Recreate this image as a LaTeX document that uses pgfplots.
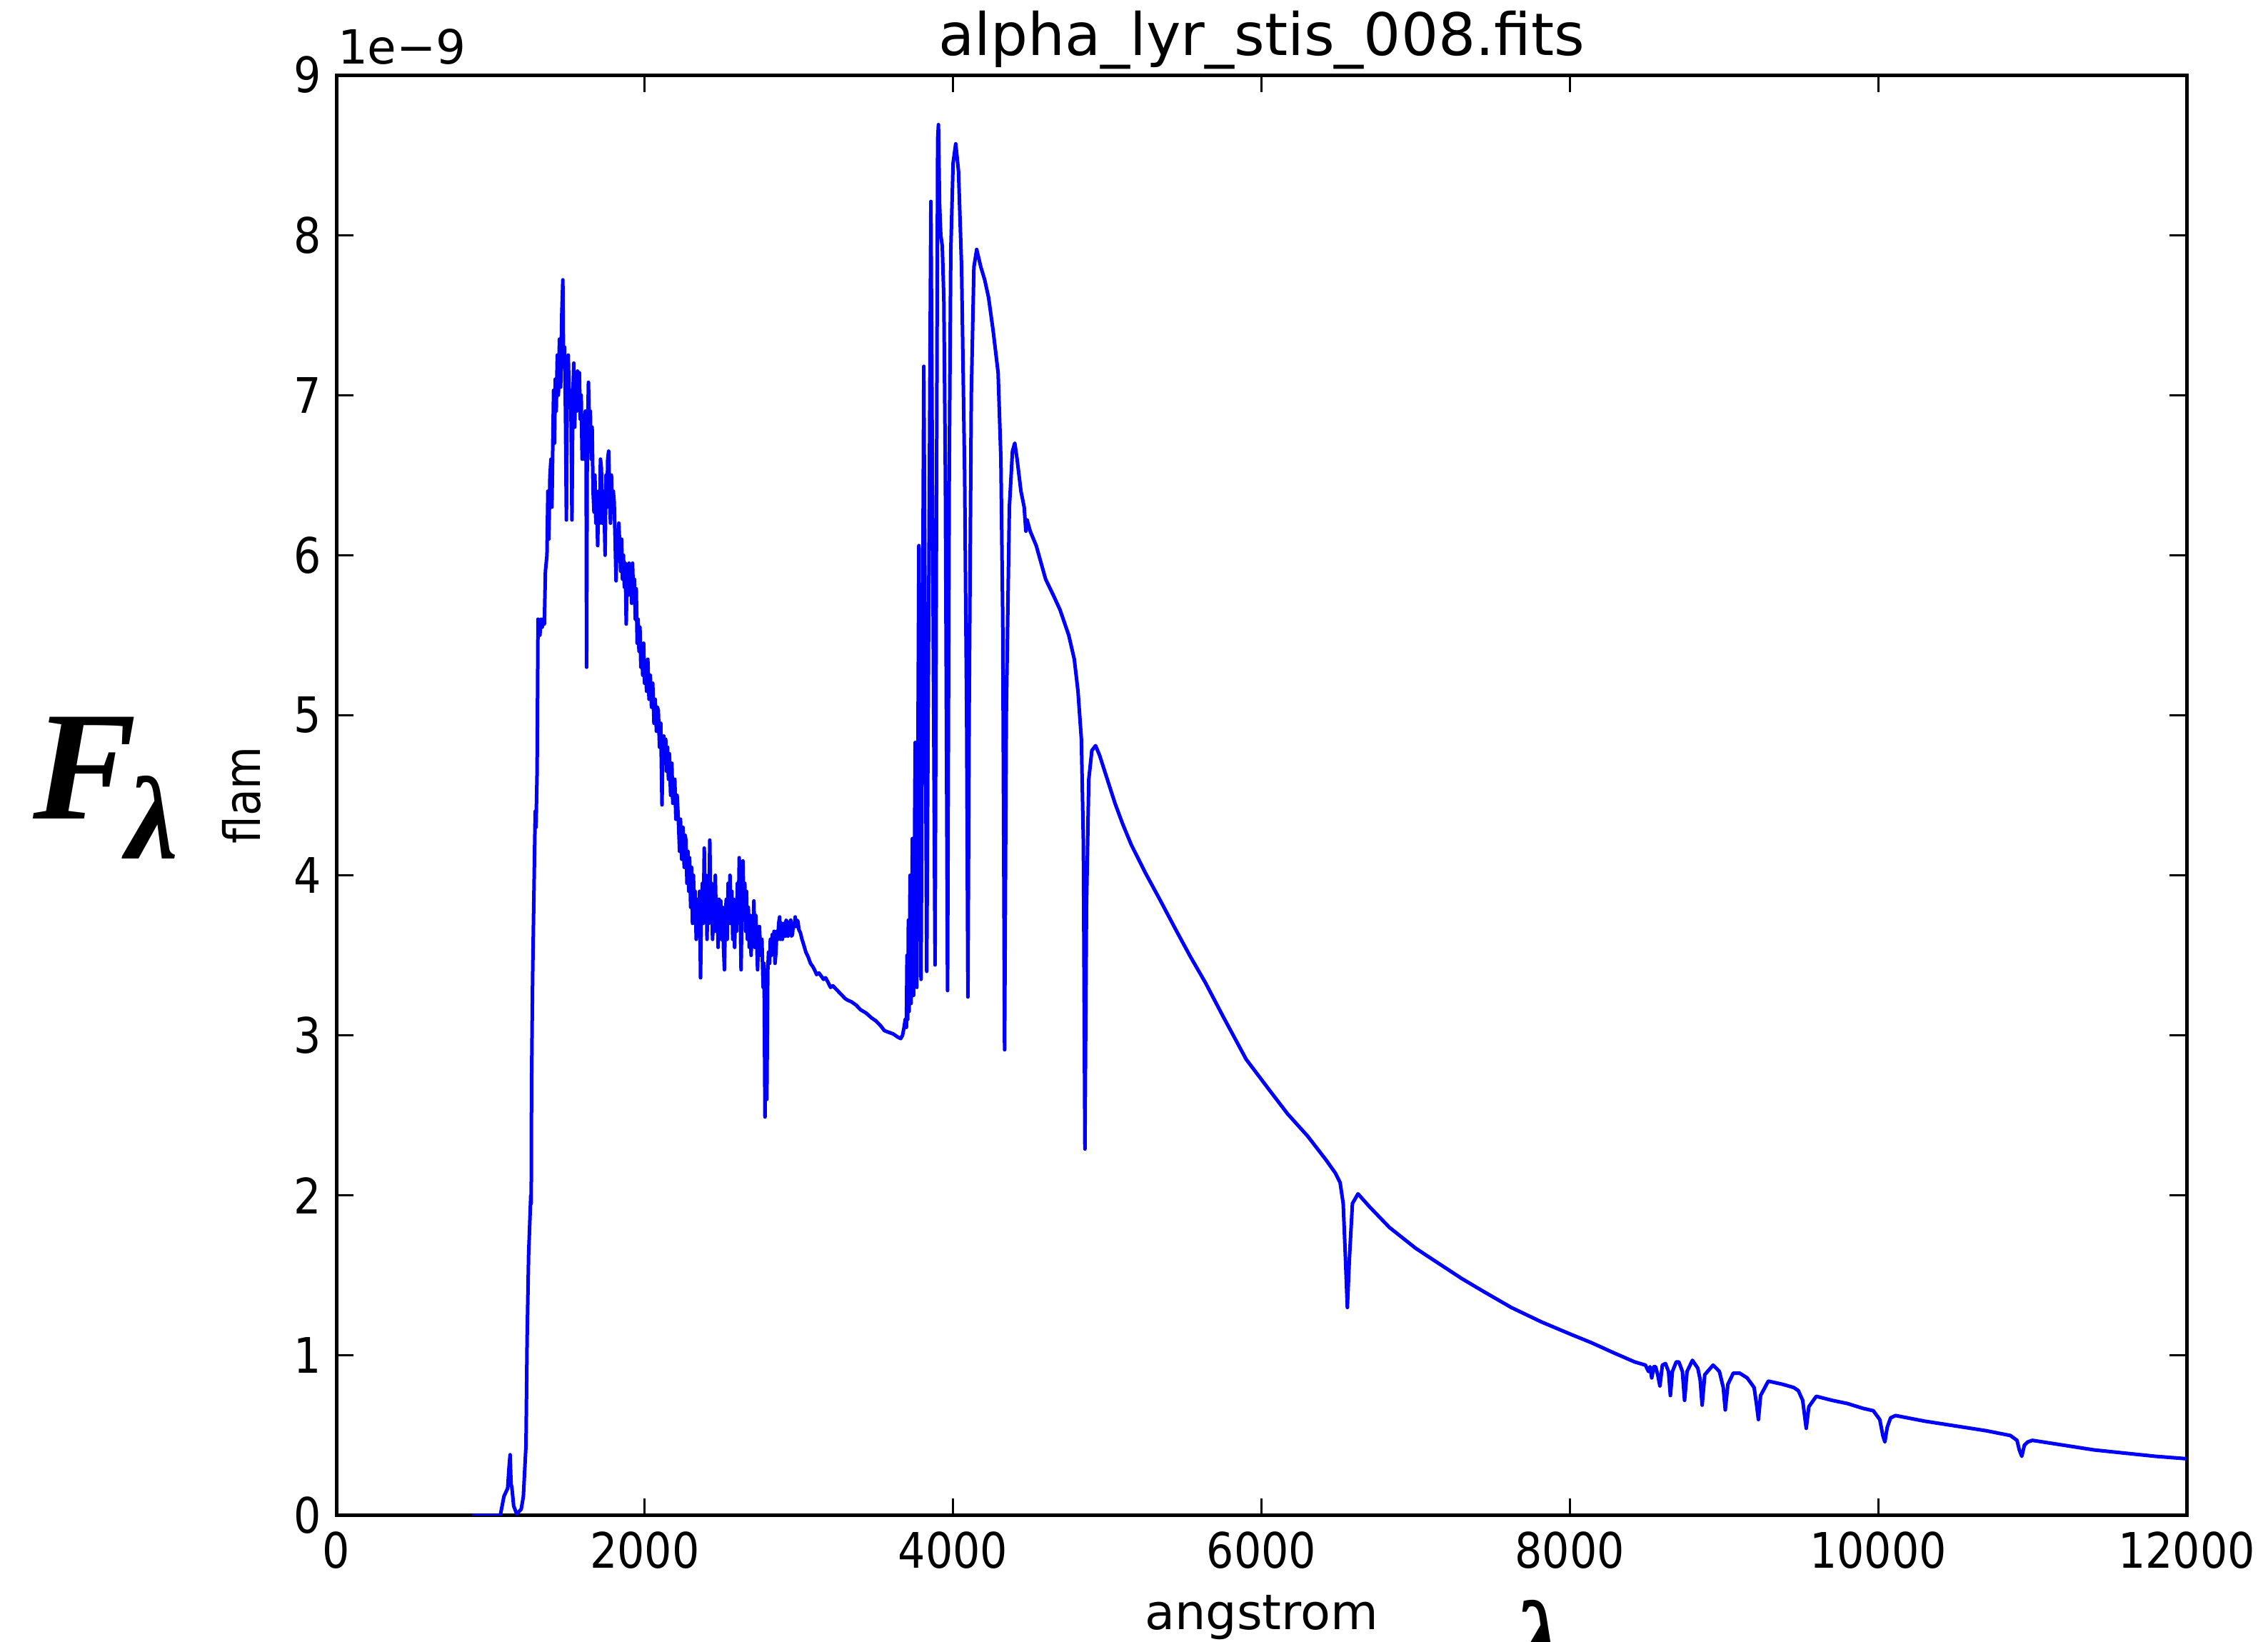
\documentclass[border=0pt]{standalone}
\usepackage{fontspec}
\setmainfont{DejaVu Sans}[FakeStretch=0.88]
\newfontfamily\djv{DejaVu Sans}
\newfontfamily\tnr{Liberation Serif}
\usepackage{pgfplots}
\pgfplotsset{compat=1.18}
\begin{document}
\begin{tikzpicture}
\useasboundingbox (0,0) rectangle (635.2pt,459.8pt);
\begin{axis}[
  at={(94.2pt,35.4pt)}, anchor=south west, scale only axis,
  width=518.2pt, height=403.4pt,
  xmin=0, xmax=12000, ymin=0, ymax=9,
  xtick={0,2000,...,12000}, ytick={0,1,...,9},
  scaled ticks=false,
  /pgf/number format/1000 sep={},
  /pgf/number format/assume math mode=true,
  tick label style={font=\fontsize{13.7}{16}\selectfont},
  xticklabel style={anchor=base, yshift=-14.8pt, inner sep=0pt},
  yticklabel style={anchor=east, xshift=-4pt, inner sep=0pt},
  major tick length=4.8pt,
  tick style={black, line width=0.6pt},
  axis line style={black, line width=1pt},
]
\addplot[color={rgb,1:red,0;green,0;blue,1}, line width=1pt, line join=round] coordinates {
(880,0) (1063,0) (1087,0.12) (1111,0.17) (1120,0.3) (1127,0.38) (1133,0.2) (1139,0.17) (1150,0.06) (1170,0.01) (1199,0.04) (1213,0.12) (1230,0.44) (1237,1.09) (1247,1.63)
(1261,2.0) (1264,1.95) (1266,2.7) (1273,3.36) (1285,4.11) (1290,4.4) (1295,4.3) (1302,4.65) (1308,5.6) (1313,5.57) (1320,5.5) (1328,5.6) (1335,5.55) (1342,5.6) (1349,5.57) (1356,5.9) (1366,6.0) (1372,6.4) (1378,6.1) (1385,6.49) (1392,6.6) (1398,6.3) (1409,7.03) (1415,6.7) (1420,7.1) (1426,6.9) (1433,7.25) (1440,7.0) (1447,7.35) (1455,7.05) (1462,7.5) (1469,7.72) (1473,7.2) (1480,7.3) (1486,6.9) (1492,6.22) (1498,7.1) (1504,7.25) (1510,7.0) (1516,7.03) (1522,6.9) (1528,6.22) (1534,7.0) (1540,7.2) (1546,6.8) (1552,7.1) (1558,6.9) (1564,7.15) (1570,6.95) (1576,7.14) (1582,6.85) (1588,7.0) (1594,6.6) (1600,6.76) (1608,6.6) (1615,6.9) (1620,6.7) (1623,5.3) (1627,6.6) (1635,7.08) (1641,6.8) (1647,6.9) (1653,6.6) (1659,6.8) (1665,6.4) (1671,6.27) (1677,6.5) (1683,6.2) (1689,6.3) (1695,6.06) (1701,6.4) (1707,6.2) (1713,6.6) (1719,6.54) (1725,6.2) (1731,6.4) (1737,6.3) (1743,6.0) (1749,6.5) (1755,6.3) (1760,6.6) (1766,6.65) (1772,6.4) (1778,6.2) (1784,6.5) (1790,6.3) (1796,6.4) (1802,6.33) (1808,6.1) (1814,5.84) (1820,6.1) (1826,6.0) (1832,6.2) (1838,6.06) (1844,5.9) (1850,6.1) (1856,5.85) (1862,6.0) (1868,5.8) (1874,5.95) (1880,5.57) (1886,5.9) (1892,5.75) (1898,5.95) (1904,5.8) (1910,5.9) (1915,5.7) (1921,5.95) (1927,5.75) (1933,5.85) (1939,5.6) (1945,5.79) (1951,5.45) (1957,5.6) (1963,5.4) (1969,5.55) (1975,5.3) (1981,5.41) (1987,5.25) (1993,5.45) (1999,5.2) (2005,5.3) (2012,5.15) (2020,5.35) (2028,5.1) (2036,5.25) (2044,5.05) (2052,5.2) (2060,4.95) (2068,5.1) (2076,4.9) (2082,5.05) (2088,5.03) (2096,4.8) (2104,4.95) (2112,4.44) (2118,4.8) (2124,4.87) (2130,4.7) (2136,4.85) (2142,4.65) (2148,4.8) (2154,4.6) (2160,4.76) (2168,4.5) (2176,4.7) (2182,4.45) (2188,4.6) (2195,4.6) (2202,4.35) (2210,4.5) (2219,4.33) (2226,4.15) (2232,4.35) (2240,4.1) (2248,4.3) (2256,4.05) (2262,4.25) (2267,4.22) (2274,3.95) (2280,4.15) (2286,3.9) (2291,4.11) (2298,3.8) (2304,4.05) (2310,3.7) (2316,4.0) (2322,3.75) (2327,3.9) (2334,3.6) (2340,3.85) (2345,3.74) (2350,3.65) (2356,3.9) (2362,3.36) (2368,3.8) (2374,3.95) (2380,3.7) (2386,4.17) (2392,3.8) (2398,4.0) (2404,3.6) (2410,3.95) (2416,3.7) (2422,4.22) (2428,3.8) (2434,3.95) (2440,3.6) (2446,3.79) (2452,3.65) (2458,4.0) (2464,3.7) (2470,3.85) (2476,3.55) (2482,3.85) (2487,3.7) (2493,3.84) (2499,3.6) (2505,3.8) (2511,3.55) (2517,3.41) (2523,3.75) (2529,3.85) (2535,3.6) (2541,3.95) (2547,3.7) (2553,4.0) (2559,3.7) (2565,3.9) (2571,3.6) (2577,3.85) (2583,3.55) (2589,3.8) (2595,3.65) (2601,3.95) (2607,3.7) (2613,4.11) (2619,3.8) (2625,3.41) (2631,3.85) (2637,4.09) (2643,3.75) (2649,3.95) (2655,3.65) (2660,3.9) (2666,3.6) (2672,3.8) (2678,3.55) (2684,3.75) (2690,3.5) (2696,3.7) (2702,3.6) (2708,3.84) (2714,3.55) (2720,3.75) (2726,3.6) (2732,3.41) (2738,3.6) (2744,3.68) (2752,3.5) (2760,3.6) (2768,3.3) (2774,3.45) (2780,2.49) (2786,3.3) (2792,2.6) (2798,3.4) (2803,3.52) (2810,3.45) (2815,3.6) (2821,3.5) (2827,3.63) (2833,3.55) (2839,3.65) (2845,3.45) (2851,3.52) (2857,3.65) (2863,3.6) (2869,3.7) (2875,3.74) (2881,3.6) (2887,3.7) (2893,3.6) (2899,3.65) (2905,3.7) (2911,3.62) (2917,3.72) (2923,3.71) (2929,3.62) (2935,3.7) (2941,3.65) (2947,3.72) (2952,3.62) (2958,3.63) (2964,3.7) (2970,3.68) (2976,3.74) (2982,3.68) (2988,3.72) (2994,3.71) (3000,3.66) (3010,3.64) (3020,3.6) (3030,3.57) (3045,3.52) (3060,3.49) (3075,3.45) (3090,3.43) (3101,3.41) (3115,3.38) (3130,3.39) (3145,3.37) (3160,3.35) (3173,3.36) (3190,3.33) (3205,3.3) (3220,3.31) (3240,3.29) (3260,3.27) (3280,3.25) (3300,3.23) (3316,3.22) (3340,3.21) (3370,3.19) (3400,3.16) (3435,3.14) (3470,3.11) (3500,3.09) (3530,3.06) (3554,3.03) (3580,3.02) (3610,3.01) (3640,2.99) (3660,2.98) (3672,3.0) (3682,3.05) (3690,3.1)
(3697,3.05) (3701,3.5) (3706,3.1) (3710,3.72) (3715,3.15) (3721,4.0) (3728,3.2) (3736,4.23) (3744,3.25) (3754,4.83) (3765,3.3) (3778,6.06) (3792,3.35) (3810,7.18) (3829,3.4) (3856,8.21) (3883,3.44) (3900,8.6) (3905,8.69) (3912,8.2) (3920,8.0) (3930,7.93) (3940,7.6) (3950,6.5) (3964,3.28) (3975,6.5) (3985,7.9) (4000,8.45) (4017,8.57) (4035,8.4) (4055,7.8) (4075,6.5) (4088,5.0) (4096,3.24) (4104,5.0) (4118,7.0) (4135,7.8) (4153,7.91) (4180,7.8) (4205,7.72) (4230,7.61) (4260,7.4) (4292,7.14) (4310,6.6) (4322,5.6) (4334,2.91) (4345,5.0) (4365,6.3) (4385,6.65) (4400,6.70) (4415,6.6) (4440,6.4) (4461,6.3) (4472,6.15) (4480,6.22) (4500,6.15) (4539,6.06) (4600,5.85) (4650,5.75) (4693,5.66) (4750,5.5) (4786,5.35) (4810,5.15) (4832,4.85) (4845,4.2) (4855,2.29) (4865,3.8) (4880,4.6) (4900,4.78) (4924,4.81) (4950,4.75) (5000,4.6) (5050,4.45) (5100,4.32) (5156,4.19) (5250,4.01) (5340,3.85) (5450,3.65) (5540,3.49) (5636,3.33) (5750,3.12) (5901,2.85) (6050,2.66) (6169,2.51) (6300,2.37) (6420,2.22) (6479,2.14) (6510,2.08) (6530,1.95) (6545,1.6) (6557,1.3) (6570,1.6) (6590,1.95) (6626,2.01) (6700,1.93) (6830,1.8) (7000,1.67) (7110,1.6) (7300,1.48) (7440,1.4) (7620,1.3) (7815,1.21) (8012,1.13) (8140,1.08) (8277,1.02) (8420,0.96) (8490,0.94)
(8510,0.9) (8520,0.93) (8531,0.86) (8545,0.93) (8556,0.93) (8570,0.88) (8584,0.81) (8600,0.94) (8620,0.95) (8640,0.9) (8652,0.75) (8665,0.9) (8690,0.96) (8707,0.96) (8730,0.9) (8744,0.72) (8760,0.9) (8795,0.97) (8830,0.92) (8845,0.85) (8858,0.69) (8875,0.88) (8929,0.94) (8970,0.9) (8995,0.8) (9008,0.66) (9025,0.82) (9060,0.89) (9101,0.89) (9150,0.86) (9195,0.8) (9210,0.7) (9223,0.6) (9237,0.75) (9287,0.84) (9380,0.82) (9452,0.8) (9482,0.78) (9510,0.72) (9533,0.545) (9550,0.68) (9598,0.745) (9700,0.72) (9800,0.7) (9900,0.67) (9968,0.655) (10010,0.6) (10030,0.5) (10043,0.46) (10058,0.55) (10080,0.61) (10112,0.625) (10300,0.59) (10500,0.56) (10700,0.53) (10857,0.50) (10900,0.47) (10915,0.41) (10931,0.37) (10948,0.44) (10970,0.46) (11000,0.47) (11200,0.44) (11400,0.41) (11600,0.39) (11800,0.37) (12000,0.355)
};
\end{axis}
\node[anchor=base, inner sep=0pt, font=\djv\fontsize{16.4}{19}\selectfont] at (353.3pt,444.2pt) {alpha\_lyr\_stis\_008.fits};
\node[anchor=base west, inner sep=0pt, font=\djv\fontsize{13.2}{16}\selectfont] at (94.4pt,441.8pt) {1e−9};
\node[anchor=base, inner sep=0pt, font=\djv\fontsize{13.7}{16}\selectfont] at (353.3pt,3.4pt) {angstrom};
\node[anchor=center, rotate=90, inner sep=0pt, font=\fontsize{14}{16}\selectfont] at (67.6pt,237.1pt) {flam};
\node[anchor=base west, inner sep=0pt] at (9pt,230.4pt) {\tnr\fontsize{43.5}{50}\selectfont\bfseries\itshape F\kern-3pt\raisebox{-11.2pt}{\fontsize{33}{38}\selectfont λ}};
\node[anchor=north, inner sep=0pt] at (430.8pt,12pt) {\tnr\fontsize{33}{38}\selectfont\bfseries\itshape λ};
\end{tikzpicture}
\end{document}
